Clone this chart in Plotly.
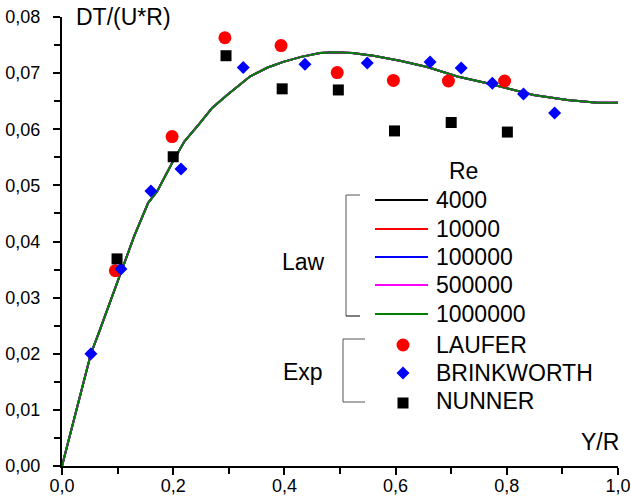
import plotly.graph_objects as go

# Law profiles, DT/(U*R) against Y/R (all Reynolds numbers nearly coincide)
law_x = [0, 0.02, 0.04, 0.052, 0.068, 0.09, 0.11, 0.13, 0.155, 0.171, 0.198, 0.22,
         0.248, 0.27, 0.297, 0.338, 0.37, 0.398, 0.43, 0.464, 0.49, 0.522, 0.56,
         0.608, 0.657, 0.711, 0.765, 0.81, 0.848, 0.909, 0.963, 1.0]
law_y = [0, 0.0078, 0.0155, 0.0200, 0.0242, 0.0303, 0.0358, 0.0410, 0.0469, 0.0489,
         0.0540, 0.0578, 0.0611, 0.0638, 0.0661, 0.0694, 0.0710, 0.0720, 0.0729,
         0.0736, 0.0737, 0.0736, 0.0731, 0.0722, 0.0711, 0.0694, 0.0682, 0.0671,
         0.0661, 0.0652, 0.0647, 0.0647]
re_labels = ["4000", "10000", "100000", "500000", "1000000"]
re_colors = ["#000000", "#ff0000", "#0000ff", "#ff00ff", "#008000"]

# Experimental data
laufer_x = [0.096, 0.198, 0.293, 0.394, 0.495, 0.596, 0.695, 0.796]
laufer_y = [0.0348, 0.0587, 0.0763, 0.0749, 0.0701, 0.0687, 0.0686, 0.0686]
brink_x = [0.052, 0.106, 0.160, 0.214, 0.326, 0.437, 0.549, 0.662, 0.718, 0.774, 0.830, 0.886]
brink_y = [0.0200, 0.0351, 0.0490, 0.0529, 0.0710, 0.0716, 0.0718, 0.0720, 0.0709,
           0.0682, 0.0663, 0.0629]
nunner_x = [0.099, 0.200, 0.295, 0.396, 0.497, 0.598, 0.700, 0.801]
nunner_y = [0.0369, 0.0551, 0.0731, 0.0672, 0.0670, 0.0597, 0.0612, 0.0595]

W, H = 631, 500
ML, MR, MT, MB = 62, 13, 17, 34
PW, PH = W - ML - MR, H - MT - MB
FONT = "Arial, Liberation Sans, sans-serif"
TXT = 23


def px(x):
    return (x - ML) / PW


def py(y):
    return (H - MB - y) / PH


fig = go.Figure()
for lab, col in zip(re_labels, re_colors):
    fig.add_trace(go.Scatter(x=law_x, y=law_y, mode="lines", name=lab,
                             line=dict(color=col, width=2), showlegend=False))

fig.add_trace(go.Scatter(x=laufer_x, y=laufer_y, mode="markers", name="LAUFER",
                         marker=dict(symbol="circle", size=13, color="#ff0000"),
                         showlegend=False))
fig.add_trace(go.Scatter(x=brink_x, y=brink_y, mode="markers", name="BRINKWORTH",
                         marker=dict(symbol="diamond", size=10, color="#0000ff"),
                         showlegend=False))
fig.add_trace(go.Scatter(x=nunner_x, y=nunner_y, mode="markers", name="NUNNER",
                         marker=dict(symbol="square", size=11, color="#000000"),
                         showlegend=False))

shapes = []
annotations = []


def text(x, y, s, anchor="left", size=TXT):
    annotations.append(dict(x=px(x), y=py(y), xref="paper", yref="paper", text=s,
                            showarrow=False, xanchor=anchor, yanchor="middle",
                            font=dict(family=FONT, size=size, color="#000000")))


def seg(x0, y0, x1, y1, color="#000000", width=1):
    shapes.append(dict(type="line", xref="paper", yref="paper",
                       x0=px(x0), y0=py(y0), x1=px(x1), y1=py(y1),
                       line=dict(color=color, width=width)))


# axis titles
text(74, 17, "DT/(U*R)")
text(621, 442, "Y/R", anchor="right")

# legend block: Law
text(463, 171, "Re", anchor="center")
law_rows = [200, 229, 257, 285, 314]
for lab, col, yy in zip(re_labels, re_colors, law_rows):
    seg(375, yy, 428, yy, col, 2)
    text(434, yy, lab)
seg(346, 195, 346, 316, "#555555")
seg(346, 195, 360, 195, "#555555")
seg(346, 316, 360, 316, "#000000")
text(303, 262, "Law", anchor="center")

# legend block: Exp
seg(343, 339, 343, 402, "#555555")
seg(343, 339, 365, 339, "#555555")
seg(343, 402, 365, 402, "#555555")
text(303, 372, "Exp", anchor="center")
exp_rows = [("LAUFER", 345), ("BRINKWORTH", 373), ("NUNNER", 401)]
for lab, yy in exp_rows:
    text(434, yy, lab)
cx = 403
shapes.append(dict(type="circle", xref="paper", yref="paper", x0=px(cx - 6.5), x1=px(cx + 6.5),
                   y0=py(345 + 6.5), y1=py(345 - 6.5), fillcolor="#ff0000",
                   line=dict(width=0)))
d = 6.5
shapes.append(dict(type="path", xref="paper", yref="paper",
                   path=f"M {px(cx - d)} {py(373)} L {px(cx)} {py(373 - d)} L {px(cx + d)} {py(373)} L {px(cx)} {py(373 + d)} Z",
                   fillcolor="#0000ff", line=dict(width=0)))
shapes.append(dict(type="rect", xref="paper", yref="paper", x0=px(cx - 5.5), x1=px(cx + 5.5),
                   y0=py(403 + 5.5), y1=py(403 - 5.5), fillcolor="#000000",
                   line=dict(width=0)))

axis_common = dict(showgrid=False, zeroline=False, showline=True, linecolor="#000000",
                   linewidth=2, ticks="outside", ticklen=7, tickwidth=2,
                   tickcolor="#000000", mirror=False, automargin=False,
                   tickfont=dict(family=FONT, size=18, color="#000000"))

fig.update_layout(
    width=W, height=H,
    margin=dict(l=ML, r=MR, t=MT, b=MB, pad=0, autoexpand=False),
    paper_bgcolor="#ffffff", plot_bgcolor="#ffffff",
    separators=", ",
    xaxis=dict(range=[0, 1.0], dtick=0.2, tick0=0, tickformat=".1f",
               minor=dict(dtick=0.1, ticks="outside", ticklen=6, tickwidth=2,
                          tickcolor="#000000"),
               ticklabelstandoff=-5, **axis_common),
    yaxis=dict(range=[0, 0.08], dtick=0.01, tick0=0, tickformat=".2f",
               minor=dict(dtick=0.005, ticks="outside", ticklen=6, tickwidth=2,
                          tickcolor="#000000"),
               ticklabelstandoff=9, **axis_common),
    shapes=shapes,
    annotations=annotations,
    showlegend=False,
)

fig.write_html("out.html")
